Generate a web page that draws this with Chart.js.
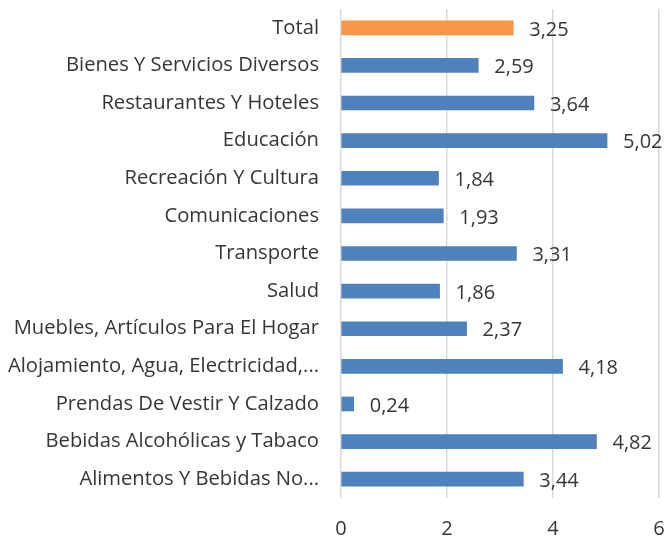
<!DOCTYPE html>
<html>
<head>
<meta charset="utf-8">
<script src="https://cdn.jsdelivr.net/npm/chart.js@4"></script>
<style>
  html, body { margin: 0; padding: 0; background: #fff; }
</style>
</head>
<body>
<canvas id="myChart" width="667" height="540"></canvas>
<script>
const categories = [
  "Total",
  "Bienes Y Servicios Diversos",
  "Restaurantes Y Hoteles",
  "Educación",
  "Recreación Y Cultura",
  "Comunicaciones",
  "Transporte",
  "Salud",
  "Muebles, Artículos Para El Hogar",
  "Alojamiento, Agua, Electricidad,...",
  "Prendas De Vestir Y Calzado",
  "Bebidas Alcohólicas y Tabaco",
  "Alimentos Y Bebidas No..."
];
const values = [3.25, 2.59, 3.64, 5.02, 1.84, 1.93, 3.31, 1.86, 2.37, 4.18, 0.24, 4.82, 3.44];
const xTicks = [0, 2, 4, 6];

const fontFamily = "'Open Sans', 'Noto Sans', sans-serif";
const textColor = "#363636";

const valueLabels = {
  id: "valueLabels",
  afterDatasetsDraw(chart) {
    const ctx = chart.ctx;
    const meta = chart.getDatasetMeta(0);
    ctx.save();
    ctx.font = "20px " + fontFamily;
    ctx.fillStyle = textColor;
    ctx.textAlign = "left";
    ctx.textBaseline = "middle";
    meta.data.forEach((bar, i) => {
      const txt = values[i].toFixed(2).replace(".", ",");
      ctx.fillText(txt, bar.x + 16, bar.y + 2);
    });
    ctx.restore();
  }
};

const noPad = (axis) => {
  axis.paddingTop = 0;
  axis.paddingBottom = 0;
  axis.paddingLeft = 0;
  axis.paddingRight = 0;
};

const ctx = document.getElementById("myChart").getContext("2d");
new Chart(ctx, {
  type: "bar",
  data: {
    labels: categories,
    datasets: [{
      data: values,
      backgroundColor: categories.map((c, i) => i === 0 ? "#F79646" : "#4F81BD"),
      barThickness: 14
    }]
  },
  plugins: [valueLabels],
  options: {
    indexAxis: "y",
    responsive: false,
    animation: false,
    layout: { padding: { top: 9, right: 8, left: 0, bottom: 0 } },
    plugins: {
      legend: { display: false },
      tooltip: { enabled: false }
    },
    scales: {
      x: {
        min: 0,
        max: 6,
        afterBuildTicks: (axis) => { axis.ticks = xTicks.map(v => ({ value: v })); },
        afterFit: (axis) => { axis.height = 42; noPad(axis); },
        grid: { color: "#d9d9d9", lineWidth: 1.5, drawTicks: false },
        border: { display: false },
        ticks: {
          color: textColor,
          padding: 19,
          font: { size: 20, family: fontFamily }
        }
      },
      y: {
        afterFit: (axis) => { axis.width = 341; noPad(axis); },
        grid: { display: false },
        border: { display: false },
        ticks: {
          color: textColor,
          padding: 14,
          autoSkip: false,
          font: { size: 20.2, family: fontFamily }
        }
      }
    }
  }
});
</script>
</body>
</html>
